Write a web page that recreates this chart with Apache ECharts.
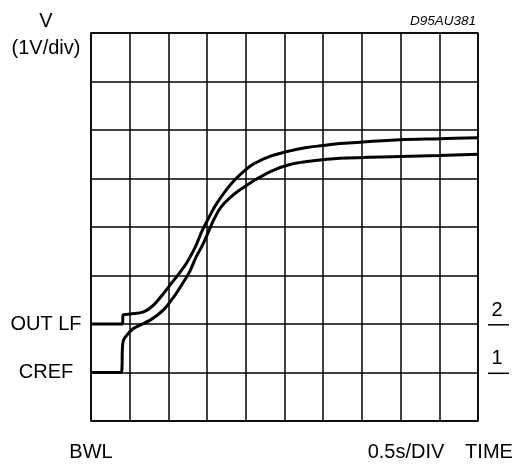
<!DOCTYPE html>
<html>
<head>
<meta charset="utf-8">
<script src="https://cdn.jsdelivr.net/npm/echarts@6/dist/echarts.min.js"></script>
<style>html,body{margin:0;padding:0;background:#fff}#c{width:518px;height:466px}</style>
</head>
<body>
<div id="c"></div>
<script>
// Time in divisions (0.5 s/div), voltage in divisions (1 V/div)
const outlfX = [0, 0.815, 0.826, 0.885, 1.014, 1.357, 1.615, 1.873, 2.08, 2.28, 2.49, 2.70, 2.86, 3.03, 3.22, 3.53, 3.75, 4.007, 4.195, 4.625, 5.14, 5.57, 6.0, 6.43, 7.98, 9.01, 10.0];
const outlfY = [2.0, 2.0, 2.18, 2.195, 2.205, 2.25, 2.39, 2.63, 2.84, 3.045, 3.285, 3.595, 3.905, 4.17, 4.45, 4.80, 5.0, 5.19, 5.30, 5.455, 5.57, 5.64, 5.68, 5.72, 5.80, 5.82, 5.84];
const crefX = [0, 0.774, 0.80, 0.81, 0.84, 0.97, 1.10, 1.53, 1.873, 2.14, 2.37, 2.55, 2.72, 2.89, 3.05, 3.19, 3.37, 3.66, 3.95, 4.28, 4.71, 5.14, 5.57, 6.0, 6.43, 7.98, 9.01, 10.0];
const crefY = [1.0, 1.0, 1.09, 1.46, 1.67, 1.81, 1.91, 2.08, 2.29, 2.56, 2.84, 3.08, 3.39, 3.64, 3.93, 4.18, 4.42, 4.65, 4.82, 4.99, 5.17, 5.29, 5.35, 5.39, 5.42, 5.455, 5.475, 5.50];
const leftLabels = {1: 'CREF', 2: 'OUT LF'};
const rightLabels = {1: '1', 2: '2'};
const FONT = 'Liberation Sans, Arial, Helvetica, sans-serif';

const chart = echarts.init(document.getElementById('c'));
const zip = (xs, ys) => xs.map((x, i) => [x, ys[i]]);
const curve = (name, xs, ys) => ({
  name, type: 'line', data: zip(xs, ys), showSymbol: false, smooth: 0.35,
  lineStyle: {color: '#000', width: 3}, silent: true, clip: true
});
chart.setOption({
  animation: false,
  backgroundColor: '#fff',
  grid: {left: 91, top: 33, width: 387, height: 388, show: true, borderColor: '#000', borderWidth: 1.5},
  xAxis: {type: 'value', min: 0, max: 10, interval: 1,
    axisLabel: {show: false}, axisTick: {show: false}, axisLine: {show: false},
    splitLine: {show: true, lineStyle: {color: '#000', width: 1.5}}},
  yAxis: {type: 'value', min: 0, max: 8, interval: 1,
    axisTick: {show: false}, axisLine: {show: false},
    splitLine: {show: true, lineStyle: {color: '#000', width: 1.5}},
    axisLabel: {formatter: v => leftLabels[v] || '', color: '#000', fontSize: 20, fontFamily: FONT, align: 'center', margin: 45}},
  series: [curve('OUT LF', outlfX, outlfY), curve('CREF', crefX, crefY)]
});

const txt = (text, x, y, align, size, style) => ({
  type: 'text', silent: true,
  style: {text, x, y, fill: '#000', font: (style || '') + ' ' + size + 'px ' + FONT,
    textAlign: align, textVerticalAlign: 'middle', align: align, verticalAlign: 'middle'}
});
const g = [
  txt('V', 46, 21, 'center', 20),
  txt('(1V/div)', 46, 48, 'center', 20),
  txt('D95AU381', 476, 21, 'right', 13.5, 'italic'),
  txt('BWL', 91, 452, 'center', 20),
  txt('0.5s/DIV', 406, 452, 'center', 20),
  txt('TIME', 489, 452, 'center', 20)
];
[2, 1].forEach(v => {
  const py = chart.convertToPixel({yAxisIndex: 0}, v);
  g.push(txt(rightLabels[v], 497, py - 14, 'center', 20));
  g.push({type: 'line', silent: true, shape: {x1: 488, y1: py + 0.8, x2: 509, y2: py + 0.8}, style: {stroke: '#000', lineWidth: 1.5}});
});
chart.setOption({graphic: g});
</script>
</body>
</html>
